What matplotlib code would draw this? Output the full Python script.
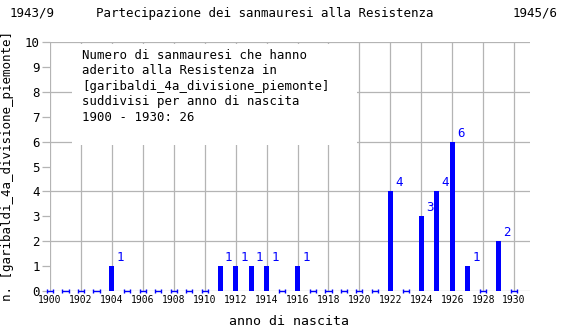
import matplotlib
matplotlib.use('Agg')
import matplotlib.pyplot as plt
from matplotlib.patches import Rectangle

years = list(range(1900, 1931))
counts = [0, 0, 0, 0, 1, 0, 0, 0, 0, 0, 0, 1, 1, 1, 1, 0,
          1, 0, 0, 0, 0, 0, 4, 0, 3, 4, 6, 1, 0, 2, 0]
x_ticks = list(range(1900, 1931, 2))
y_ticks = list(range(0, 11))

title_left = '1943/9'
title_mid = 'Partecipazione dei sanmauresi alla Resistenza'
title_right = '1945/6'
x_label = 'anno di nascita'
y_label = 'n. [garibaldi_4a_divisione_piemonte]'
note = ('Numero di sanmauresi che hanno\n'
        'aderito alla Resistenza in\n'
        '[garibaldi_4a_divisione_piemonte]\n'
        'suddivisi per anno di nascita\n'
        '1900 - 1930: %d' % sum(counts))

plt.rcParams['font.family'] = 'DejaVu Sans Mono'
blue = '#0000ff'
grey = '#b4b4b4'

fig = plt.figure(figsize=(5.7, 3.3), dpi=100)
ax = fig.add_axes([50 / 570, 1 - 291 / 330, 480 / 570, 249 / 330])

ax.set_xlim(1900, 1931.03)
ax.set_ylim(0, 10)

# grid every 2 units
for gx in x_ticks:
    ax.axvline(gx, color=grey, lw=0.9, zorder=1)
for gy in range(0, 11, 2):
    ax.axhline(gy, color=grey, lw=0.9, zorder=1)

nz_years = [y for y, c in zip(years, counts) if c > 0]
nz_counts = [c for c in counts if c > 0]
zero_years = [y for y, c in zip(years, counts) if c == 0]

ax.bar(nz_years, nz_counts, width=0.33, color=blue, zorder=3)
ax.errorbar(zero_years, [0] * len(zero_years), xerr=0.2, fmt='none',
            ecolor=blue, elinewidth=1, capsize=1.6, capthick=1,
            zorder=4, clip_on=False)

for y, c in zip(nz_years, nz_counts):
    ax.annotate(str(c), xy=(y + 0.17, c), xytext=(1.5, 1.5),
                textcoords='offset points', ha='left', va='bottom',
                color=blue, fontsize=9, zorder=5)

# white note box over the grid
ax.add_patch(Rectangle(((72 - 50) / 480, (291 - 145) / 249),
                       (357 - 72) / 480, (145 - 44) / 249,
                       transform=ax.transAxes, facecolor='white',
                       edgecolor='none', zorder=2))
ax.text((82 - 50) / 480, (291 - 49) / 249, note, transform=ax.transAxes,
        ha='left', va='top', fontsize=8.9, linespacing=1.25, zorder=3)

for s in ax.spines.values():
    s.set_visible(False)

ax.set_xticks(x_ticks)
ax.set_yticks(y_ticks)
ax.tick_params(axis='x', length=0, pad=3, labelsize=7)
ax.tick_params(axis='y', length=6, width=0.9, color=grey, pad=1.5,
               labelsize=9)

fig.text(10 / 570, 1 - 13 / 330, title_left, ha='left', va='center',
         fontsize=9)
fig.text(265 / 570, 1 - 13 / 330, title_mid, ha='center', va='center',
         fontsize=9)
fig.text(558 / 570, 1 - 13 / 330, title_right, ha='right', va='center',
         fontsize=9)
fig.text(289 / 570, 1 - 325 / 330, x_label, ha='center', va='baseline',
         fontsize=9.5)
fig.text(8 / 570, 1 - 166 / 330, y_label, ha='center', va='center',
         rotation=90, fontsize=9)

fig.savefig('out.png', dpi=100)
